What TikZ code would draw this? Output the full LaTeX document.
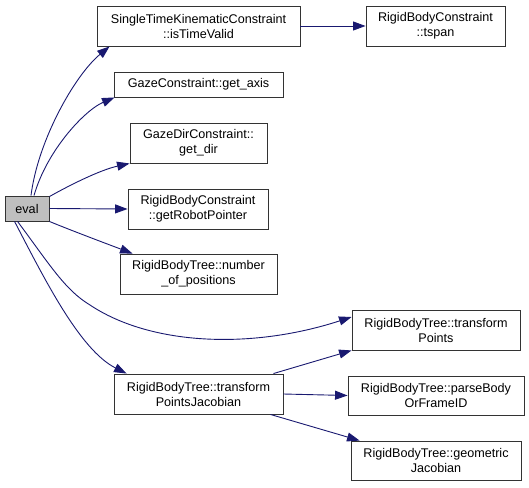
\documentclass[tikz,border=0pt]{standalone}
\usepackage{fontspec}
\setmainfont{Liberation Sans}
\usetikzlibrary{arrows.meta}
\definecolor{edgecol}{HTML}{191970}
\begin{document}
\begin{tikzpicture}[x=1pt,y=-1pt,
  box/.style={draw=black!80,line width=0.9pt,fill=white,inner sep=0pt,align=center,
    font=\fontsize{12.6}{15}\selectfont},
  rootbox/.style={box,fill=black!25},
  call/.style={draw=edgecol,line width=0.9pt,-{Triangle[length=12.5pt,width=9pt]}}]
\useasboundingbox (0,0) rectangle (529,487);
\node[rootbox,minimum width=44pt,minimum height=25pt] (eval) at (27,208.5) {eval};
\node[box,minimum width=203pt,minimum height=40pt] (st) at (198.5,26) {SingleTimeKinematicConstraint\\::isTimeValid};
\node[box,minimum width=169pt,minimum height=25pt] (ga) at (198.5,84.5) {GazeConstraint::get\_axis};
\node[box,minimum width=137pt,minimum height=40pt] (gd) at (198.5,143) {GazeDirConstraint::\\get\_dir};
\node[box,minimum width=140pt,minimum height=40pt] (rp) at (198,209) {RigidBodyConstraint\\::getRobotPointer};
\node[box,minimum width=157pt,minimum height=40pt] (np) at (198.5,274) {RigidBodyTree::number\\\_of\_positions};
\node[box,minimum width=169pt,minimum height=40pt] (tpj) at (198.5,394) {RigidBodyTree::transform\\PointsJacobian};
\node[box,minimum width=139pt,minimum height=40pt] (ts) at (435.5,26) {RigidBodyConstraint\\::tspan};
\node[box,minimum width=168pt,minimum height=40pt] (tp) at (436,330) {RigidBodyTree::transform\\Points};
\node[box,minimum width=176pt,minimum height=39pt] (pb) at (436,395.5) {RigidBodyTree::parseBody\\OrFrameID};
\node[box,minimum width=170pt,minimum height=39pt] (gj) at (436,460.5) {RigidBodyTree::geometric\\Jacobian};
\coordinate (bend) at (90,305);

\draw[call] ([xshift=4pt]eval.north) .. controls (38,140) and (75,75) .. ([xshift=13pt]st.south west);
\draw[call] ([xshift=7pt]eval.north) .. controls (47,150) and (85,110) .. ([xshift=1pt]ga.south west);
\draw[call] ([yshift=-1pt]eval.north east) .. controls (70,185) and (100,170) .. (gd.south west);
\draw[call] (eval.east) -- (rp.west);
\draw[call] (eval.south east) .. controls (70,230) and (110,245) .. ([xshift=13pt]np.north west);
\draw[call] ([xshift=13pt]eval.south west) .. controls (50,265) and (65,290) .. (bend)
   .. controls (150,345) and (250,350) .. ([yshift=13pt]tp.west);
\draw[call] ([xshift=10pt]eval.south west) .. controls (45,280) and (80,350) .. ([xshift=13pt]tpj.north west);
\draw[call] ([xshift=-10pt]tpj.north east) -- (tp.south west);
\draw[call] (tpj.east) -- (pb.west);
\draw[call] ([xshift=-13pt]tpj.south east) -- ([xshift=9pt]gj.north west);
\draw[call] (st.east) -- (ts.west);
\end{tikzpicture}
\end{document}
